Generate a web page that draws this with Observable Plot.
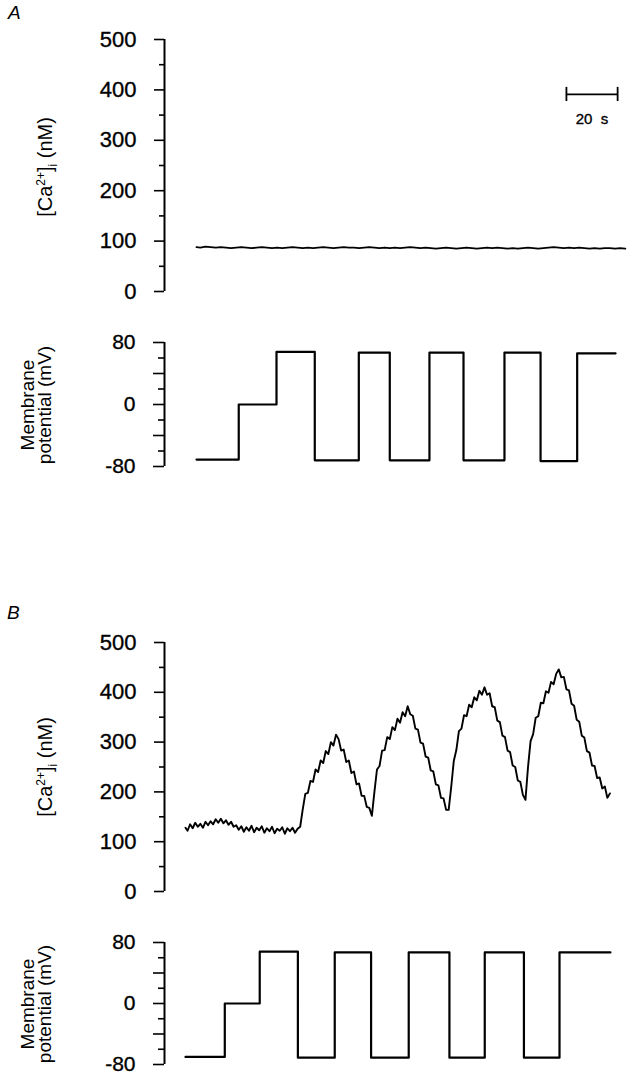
<!DOCTYPE html>
<html>
<head>
<meta charset="utf-8">
<script src="https://cdn.jsdelivr.net/npm/d3@7"></script>
<script src="https://cdn.jsdelivr.net/npm/@observablehq/plot@0.6"></script>
<style>
  body { margin: 0; background: #fff; }
  #root { position: relative; width: 628px; height: 1079px; background: #fff; overflow: hidden; font-family: "Liberation Sans", Arial, sans-serif; color: #000; }
  .chart { position: absolute; left: 0; }
  .chart svg { overflow: visible; }
  .chart svg text { stroke: #000; stroke-width: 0.35px; }
  .panel { position: absolute; font-style: italic; font-size: 19px; }
  .ylab { position: absolute; transform: translate(-50%, -50%) rotate(-90deg); white-space: nowrap; text-align: center; }
  .ylab sup, .ylab sub { font-size: 12px; }
</style>
</head>
<body>
<div id="root">
  <div class="panel" style="left:8px; top:2px;">A</div>
  <div class="panel" style="left:7px; top:602px;">B</div>
  <div class="ylab" style="left:47px; top:167px; font-size:20px;">[Ca<sup>2+</sup>]<sub>i</sub> (nM)</div>
  <div class="ylab" style="left:47px; top:767px; font-size:20px;">[Ca<sup>2+</sup>]<sub>i</sub> (nM)</div>
  <div class="ylab" style="left:36px; top:405px; font-size:19px; line-height:17px;">Membrane<br>potential (mV)</div>
  <div class="ylab" style="left:36px; top:1004px; font-size:19px; line-height:17px;">Membrane<br>potential (mV)</div>
  <div class="chart" id="caA" style="top:0px;"></div>
  <div class="chart" id="vmA" style="top:320px;"></div>
  <div class="chart" id="caB" style="top:600px;"></div>
  <div class="chart" id="vmB" style="top:920px;"></div>
</div>
<script>
// ---------- data ----------
// [Ca2+]i trace, panel A: [time (s), nM]
const caA = [[12.5,88],[14,87],[16,89],[18,88],[20,87],[22,88],[24,87],[26,86],[28,87],[30,88],[32,87],[34,86],[36,87],[38,88],[40,87],[42,86],[44,87],[46,86],[48,87],[50,88],[52,87],[54,86],[56,87],[58,86],[60,87],[62,88],[64,87],[66,86],[68,87],[70,88],[72,87],[74,87],[76,86],[78,87],[80,88],[82,87],[84,86],[86,87],[88,86],[90,87],[92,86],[94,87],[96,88],[98,87],[100,86],[102,87],[104,86],[106,85],[108,86],[110,87],[112,86],[114,85],[116,86],[118,87],[120,86],[122,85],[124,86],[126,87],[128,86],[130,87],[132,86],[134,85],[136,86],[138,85],[140,86],[142,87],[144,86],[146,85],[148,86],[150,87],[152,88],[154,87],[156,86],[158,87],[160,86],[162,87],[164,86],[166,85],[168,86],[170,85],[172,86],[174,86],[176,85],[178,86],[180,85]];

// [Ca2+]i trace, panel B: [time (s), nM]
const caB = [[8.2,128],[9,122],[10,135],[11,127],[12,138],[13,130],[14,136],[15,128],[16,140],[17,133],[18,141],[19,135],[20,145],[21,138],[22,146],[23,137],[24,143],[25,134],[26,140],[27,130],[28,133],[29,124],[30,131],[31,120],[32,129],[33,122],[34,132],[35,119],[36,128],[37,123],[38,131],[39,118],[40,127],[41,121],[42,130],[43,117],[44,126],[45,122],[46,129],[47,116],[48,127],[49,121],[50,128],[51,118],[52,126],[53,130],
[54,165],[55,196],[56,198],[57,222],[58,220],[59,245],[60,240],[61,263],[62,258],[63,282],[64,276],[65,300],[66,293],[67,315],
[68,306],[69,283],[70,285],[71,260],[72,263],[73,238],[74,241],[75,215],[76,217],[77,192],[78,192],[79,170],[80,168],[81,152],
[82,200],[83,245],[84,252],[85,283],[86,284],[87,310],[88,306],[89,330],[90,324],[91,347],[92,339],[93,360],[94,352],[95,372],[96,356],
[97,353],[98,327],[99,325],[100,299],[101,297],[102,271],[103,269],[104,243],[105,241],[106,215],[107,213],[108,188],[109,187],[110,164],[111,164],
[112,210],[113,262],[114,284],[115,322],[116,327],[117,354],[118,352],[119,375],[120,370],[121,390],[122,384],[123,403],[124,395],[125,410],[126,395],
[127,398],[128,372],[129,370],[130,343],[131,340],[132,313],[133,310],[134,283],[135,280],[136,253],[137,250],[138,223],[139,220],[140,194],[141,184],
[142,250],[143,302],[144,316],[145,349],[146,352],[147,379],[148,378],[149,402],[150,399],[151,421],[152,416],[153,437],[154,446],[155,430],
[156,431],[157,406],[158,404],[159,377],[160,373],[161,345],[162,341],[163,313],[164,309],[165,282],[166,279],[167,253],[168,252],[169,228],[170,229],[171,207],[172,211],[173,188],[174,197]];

// Membrane potential protocol: step start times (s) and levels (mV)
const vmATime  = [12.5, 29.0, 43.75, 58.7, 75.9, 88.0, 103.5, 116.8, 132.8, 146.9, 161.2, 176.2];
const vmALevel = [-71, 0, 68, -72, 67, -72, 67, -72, 67, -73, 66, 66];
const vmBTime  = [8.2, 23.55, 37.2, 52.1, 66.5, 80.7, 95.4, 111.3, 125.1, 140.4, 154.3, 174.2];
const vmBLevel = [-70, 0, 68, -71, 67, -71, 67, -71, 67, -71, 67, 67];

// ticks
const caTicks = [0, 100, 200, 300, 400, 500];
const caMinorTicks = [50, 150, 250, 350, 450];
const vmLabelTicks = [-80, 0, 80];
const vmMidTicks = [-40, 40];
const vmMinorTicks = [-60, -20, 20, 60];

// scale bar
const scaleBarStart = 157, scaleBarLength = 20, scaleBarLabel = "20\u00a0\u00a0s";

// ---------- drawing ----------
const W = 628, ML = 164, XMAX = 180, PXS = 2.56;
const MR = W - ML - XMAX * PXS;
const fmt = d => String(d);

function caPlot(data, marginTop, extra) {
  return Plot.plot({
    width: W, height: 300, marginLeft: ML, marginRight: MR, marginTop, marginBottom: 9,
    style: {fontFamily: "Liberation Sans, Arial, sans-serif", fontSize: "22px", background: "transparent", color: "#000"},
    x: {domain: [0, XMAX], axis: null},
    y: {domain: [0, 500], axis: null},
    marks: [
      Plot.ruleX([0], {y1: 0, y2: 500, stroke: "#000", strokeWidth: 2}),
      Plot.axisY({ticks: caTicks, label: null, tickSize: 10, tickPadding: 18, tickFormat: fmt, strokeWidth: 1.6}),
      Plot.axisY({ticks: caMinorTicks, label: null, tickSize: 5, tickFormat: () => "", strokeWidth: 1.6}),
      Plot.line(data, {x: d => d[0], y: d => d[1], stroke: "#000", strokeWidth: 1.9, strokeLinejoin: "round"}),
      ...(extra || [])
    ]
  });
}

function vmPlot(times, levels, height, marginBottom) {
  const pts = times.map((t, i) => ({t, v: levels[i]}));
  return Plot.plot({
    width: W, height, marginLeft: ML, marginRight: MR, marginTop: 22, marginBottom,
    style: {fontFamily: "Liberation Sans, Arial, sans-serif", fontSize: "21px", background: "transparent", color: "#000"},
    x: {domain: [0, XMAX], axis: null},
    y: {domain: [-80, 80], axis: null},
    marks: [
      Plot.ruleX([0], {y1: -80, y2: 80, stroke: "#000", strokeWidth: 2}),
      Plot.axisY({ticks: vmLabelTicks, label: null, tickSize: 11, tickPadding: 18, tickFormat: fmt, strokeWidth: 1.6}),
      Plot.axisY({ticks: vmMidTicks, label: null, tickSize: 11, tickFormat: () => "", strokeWidth: 1.6}),
      Plot.axisY({ticks: vmMinorTicks, label: null, tickSize: 6, tickFormat: () => "", strokeWidth: 1.6}),
      Plot.line(pts, {x: "t", y: "v", curve: "step-after", stroke: "#000", strokeWidth: 2.2})
    ]
  });
}

const scaleBar = [
  Plot.ruleY([391], {x1: scaleBarStart, x2: scaleBarStart + scaleBarLength, stroke: "#000", strokeWidth: 1.8}),
  Plot.ruleX([scaleBarStart, scaleBarStart + scaleBarLength], {y1: 377, y2: 405, stroke: "#000", strokeWidth: 1.8}),
  Plot.text([scaleBarLabel], {x: scaleBarStart + scaleBarLength / 2, y: 341, text: d => d, fontSize: 15, textAnchor: "middle"})
];

document.getElementById("caA").append(caPlot(caA, 39, scaleBar));
document.getElementById("vmA").append(vmPlot(vmATime, vmALevel, 160, 14));
document.getElementById("caB").append(caPlot(caB, 42));
document.getElementById("vmB").append(vmPlot(vmBTime, vmBLevel, 159, 15));
</script>
</body>
</html>
